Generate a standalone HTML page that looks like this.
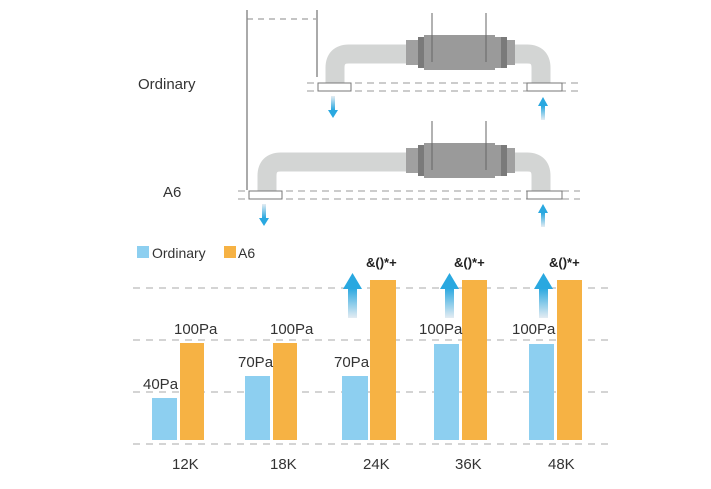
<!DOCTYPE html>
<html><head><style>body{margin:0;background:#fff}svg{display:block}</style></head><body>
<svg width="711" height="489" viewBox="0 0 711 489" xmlns="http://www.w3.org/2000/svg" font-family="Liberation Sans, sans-serif">
<defs>
<linearGradient id="ga" x1="0" y1="1" x2="0" y2="0"><stop offset="0" stop-color="#e4ecf2"/><stop offset="1" stop-color="#29a8e0"/></linearGradient>
<linearGradient id="gd" x1="0" y1="0" x2="0" y2="1"><stop offset="0" stop-color="#e4ecf2"/><stop offset="1" stop-color="#29a8e0"/></linearGradient>
<g id="flange">
<rect x="406" y="40" width="12" height="25" fill="#a0a0a0"/>
<rect x="418" y="37" width="6" height="31" fill="#7a7a7a"/>
<rect x="424" y="35" width="71" height="35" fill="#9a9a9a"/>
<rect x="495" y="37" width="6" height="31" fill="#9a9a9a"/>
<rect x="501" y="37" width="6" height="31" fill="#7a7a7a"/>
<rect x="507" y="40" width="8" height="25" fill="#a0a0a0"/>
<line x1="432" y1="13" x2="432" y2="62" stroke="#666" stroke-width="1"/>
<line x1="486" y1="13" x2="486" y2="62" stroke="#666" stroke-width="1"/>
</g>
</defs>
<g stroke="#555" stroke-width="1" fill="none">
<line x1="247" y1="10" x2="247" y2="190"/>
<line x1="317" y1="10" x2="317" y2="77"/>
<line x1="247" y1="19" x2="316" y2="19" stroke-dasharray="6,5" stroke="#888"/>
</g>
<path d="M335 84 V68 Q335 54 349 54 H527 Q541 54 541 68 V84" fill="none" stroke="#d3d5d4" stroke-width="19"/>
<use href="#flange"/>
<g stroke="#999" stroke-dasharray="7,5" stroke-width="1"><line x1="307" y1="83" x2="580" y2="83"/><line x1="307" y1="91" x2="580" y2="91"/></g>
<rect x="318" y="83" width="33" height="8" fill="#fff" stroke="#777"/>
<rect x="527" y="83" width="35" height="8" fill="#fff" stroke="#777"/>
<rect x="331" y="96" width="4" height="14" fill="url(#gd)"/><path d="M328 110 H338 L333 118Z" fill="#29a8e0"/>
<rect x="541" y="106" width="4" height="14" fill="url(#ga)"/><path d="M538 106 H548 L543 97Z" fill="#29a8e0"/>
<path d="M267 192 V176 Q267 162 281 162 H527 Q541 162 541 176 V192" fill="none" stroke="#d3d5d4" stroke-width="19"/>
<use href="#flange" y="108"/>
<g stroke="#999" stroke-dasharray="7,5" stroke-width="1"><line x1="238" y1="191" x2="580" y2="191"/><line x1="238" y1="199" x2="580" y2="199"/></g>
<rect x="249" y="191" width="33" height="8" fill="#fff" stroke="#777"/>
<rect x="527" y="191" width="35" height="8" fill="#fff" stroke="#777"/>
<rect x="262" y="204" width="4" height="14" fill="url(#gd)"/><path d="M259 218 H269 L264 226Z" fill="#29a8e0"/>
<rect x="541" y="213" width="4" height="14" fill="url(#ga)"/><path d="M538 213 H548 L543 204Z" fill="#29a8e0"/>
<text x="138" y="89" font-size="15" fill="#333">Ordinary</text>
<text x="163" y="197" font-size="15" fill="#333">A6</text>
<rect x="137" y="246" width="12" height="12" fill="#8dcff0"/><text x="152" y="258" font-size="14" fill="#333">Ordinary</text>
<rect x="224" y="246" width="12" height="12" fill="#f6b244"/><text x="238" y="258" font-size="14" fill="#333">A6</text>
<g stroke="#aaa" stroke-dasharray="7,6" stroke-width="1"><line x1="133" y1="288" x2="610" y2="288"/><line x1="133" y1="340" x2="610" y2="340"/><line x1="133" y1="392" x2="610" y2="392"/><line x1="133" y1="444" x2="610" y2="444"/></g>
<g fill="#8dcff0"><rect x="152" y="398" width="25" height="42"/><rect x="245" y="376" width="25" height="64"/><rect x="342" y="376" width="26" height="64"/><rect x="434" y="344" width="25" height="96"/><rect x="529" y="344" width="25" height="96"/></g>
<g fill="#f6b244"><rect x="180" y="343" width="24" height="97"/><rect x="273" y="343" width="24" height="97"/><rect x="370" y="280" width="26" height="160"/><rect x="462" y="280" width="25" height="160"/><rect x="557" y="280" width="25" height="160"/></g>
<g font-size="15" fill="#333">
<text x="143" y="389">40Pa</text><text x="174" y="334">100Pa</text>
<text x="238" y="367">70Pa</text><text x="270" y="334">100Pa</text>
<text x="334" y="367">70Pa</text><text x="419" y="334">100Pa</text><text x="512" y="334">100Pa</text>
<text x="172" y="469">12K</text><text x="270" y="469">18K</text><text x="363" y="469">24K</text><text x="455" y="469">36K</text><text x="548" y="469">48K</text>
</g>
<g font-size="13" fill="#222" font-weight="bold"><text x="366" y="267">&amp;()*+</text><text x="454" y="267">&amp;()*+</text><text x="549" y="267">&amp;()*+</text></g>
<g fill="url(#ga)"><rect x="348" y="288" width="9" height="30"/><rect x="445" y="288" width="9" height="30"/><rect x="539" y="288" width="9" height="30"/></g>
<g fill="#29a8e0"><path d="M343 289 H362 L352.5 273Z"/><path d="M440 289 H459 L449.5 273Z"/><path d="M534 289 H553 L543.5 273Z"/></g>
</svg>
</body></html>
